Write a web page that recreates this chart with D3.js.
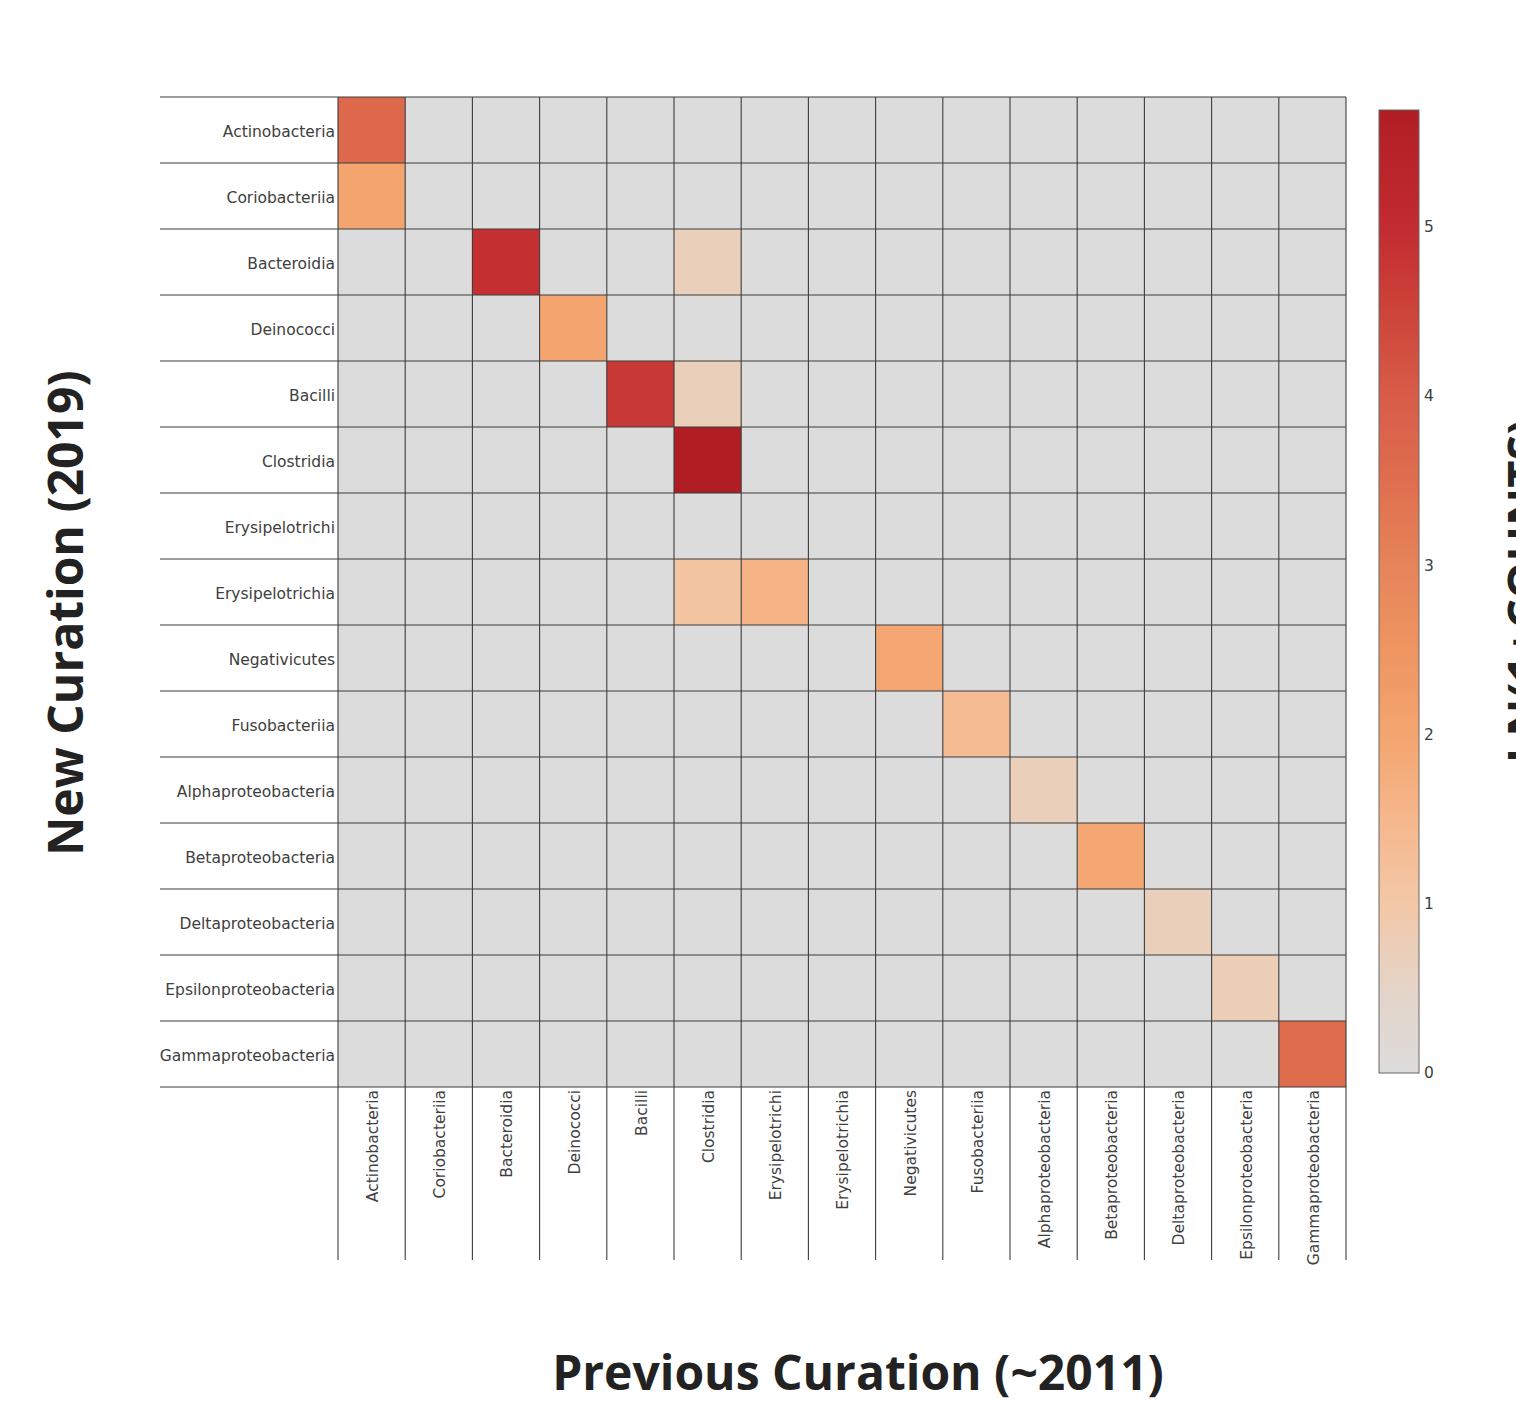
<!DOCTYPE html>
<html>
<head>
<meta charset="utf-8">
<script src="https://cdn.jsdelivr.net/npm/d3@7"></script>
<style>
  html, body { margin: 0; padding: 0; background: #ffffff; }
  svg { display: block; }
</style>
</head>
<body>
<svg id="chart" width="1516" height="1403"></svg>
<script>
// ---------------- DATA ----------------
const rowCategories = [
  "Actinobacteria", "Coriobacteriia", "Bacteroidia", "Deinococci", "Bacilli",
  "Clostridia", "Erysipelotrichi", "Erysipelotrichia", "Negativicutes", "Fusobacteriia",
  "Alphaproteobacteria", "Betaproteobacteria", "Deltaproteobacteria",
  "Epsilonproteobacteria", "Gammaproteobacteria"
];
const colCategories = [
  "Actinobacteria", "Coriobacteriia", "Bacteroidia", "Deinococci", "Bacilli",
  "Clostridia", "Erysipelotrichi", "Erysipelotrichia", "Negativicutes", "Fusobacteriia",
  "Alphaproteobacteria", "Betaproteobacteria", "Deltaproteobacteria",
  "Epsilonproteobacteria", "Gammaproteobacteria"
];
// non-zero cells: ln(1 + counts)
const cellRows = [
  "Actinobacteria", "Coriobacteriia", "Bacteroidia", "Bacteroidia", "Deinococci",
  "Bacilli", "Bacilli", "Clostridia", "Erysipelotrichia", "Erysipelotrichia",
  "Negativicutes", "Fusobacteriia", "Alphaproteobacteria", "Betaproteobacteria",
  "Deltaproteobacteria", "Epsilonproteobacteria", "Gammaproteobacteria"
];
const cellCols = [
  "Actinobacteria", "Actinobacteria", "Bacteroidia", "Clostridia", "Deinococci",
  "Bacilli", "Clostridia", "Clostridia", "Clostridia", "Erysipelotrichi",
  "Negativicutes", "Fusobacteriia", "Alphaproteobacteria", "Betaproteobacteria",
  "Deltaproteobacteria", "Epsilonproteobacteria", "Gammaproteobacteria"
];
const cellValues = [
  3.66, 2.0, 4.93, 0.69, 2.0,
  4.75, 0.69, 5.69, 1.10, 1.61,
  1.95, 1.39, 0.69, 1.95,
  0.69, 0.75, 3.55
];
const zMax = 5.69;
const colorbarTicks = [0, 1, 2, 3, 4, 5];
const colorbarTitle = "LN(1+COUNTS)";
const xTitle = "Previous Curation (~2011)";
const yTitle = "New Curation (2019)";

// colour scale stops (value -> colour)
const colorStopValues = [0, 0.5, 1.0, 1.5, 2.0, 2.5, 3.0, 3.5, 4.0, 4.5, 5.0, 5.69];
const colorStopColors = ["#dcdcdc", "#e5d4c8", "#f3c8a6", "#f5b78c", "#f4a56f", "#ee9560",
                         "#e6845a", "#df6e4e", "#d85c48", "#cd4439", "#c22b30", "#b01e24"];

// ---------------- LAYOUT ----------------
const svg = d3.select("#chart");
const plot = { left: 338, right: 1346, top: 97, bottom: 1087 };
const labelLeft = 160;
const colLineBottom = 1260;

const x = d3.scaleBand().domain(colCategories).range([plot.left, plot.right]);
const y = d3.scaleBand().domain(rowCategories).range([plot.top, plot.bottom]);
const color = d3.scaleLinear().domain(colorStopValues).range(colorStopColors)
  .interpolate(d3.interpolateRgb).clamp(true);

const tickFont = "'DejaVu Sans', Verdana, sans-serif";
const titleFont = "'Open Sans', sans-serif";

// lookup
const zMap = new Map();
cellRows.forEach((r, i) => zMap.set(r + "|" + cellCols[i], cellValues[i]));
const cells = [];
rowCategories.forEach(r => colCategories.forEach(c => {
  cells.push({ r, c, v: zMap.has(r + "|" + c) ? zMap.get(r + "|" + c) : 0 });
}));

// cells
svg.append("g").selectAll("rect").data(cells).join("rect")
  .attr("x", d => x(d.c))
  .attr("y", d => y(d.r))
  .attr("width", x.bandwidth())
  .attr("height", y.bandwidth())
  .attr("fill", d => color(d.v));

// grid lines
const grid = svg.append("g").attr("stroke", "#3c3c3c").attr("stroke-width", 1.1);
const rowEdges = rowCategories.map(r => y(r)).concat([plot.bottom]);
const colEdges = colCategories.map(c => x(c)).concat([plot.right]);
grid.selectAll("line.h").data(rowEdges).join("line").attr("class", "h")
  .attr("x1", labelLeft).attr("x2", plot.right)
  .attr("y1", d => d).attr("y2", d => d);
grid.selectAll("line.v").data(colEdges).join("line").attr("class", "v")
  .attr("x1", d => d).attr("x2", d => d)
  .attr("y1", plot.top).attr("y2", colLineBottom);

// y tick labels
svg.append("g").selectAll("text").data(rowCategories).join("text")
  .attr("x", plot.left - 3)
  .attr("y", d => y(d) + y.bandwidth() / 2)
  .attr("dy", "0.45em")
  .attr("text-anchor", "end")
  .attr("font-family", tickFont)
  .attr("font-size", 15.5)
  .attr("fill", "#404040")
  .text(d => d);

// x tick labels (rotated)
svg.append("g").selectAll("text").data(colCategories).join("text")
  .attr("transform", d => `translate(${x(d) + x.bandwidth() / 2 + 1},${plot.bottom + 3}) rotate(-90)`)
  .attr("dy", "0.35em")
  .attr("text-anchor", "end")
  .attr("font-family", tickFont)
  .attr("font-size", 15.5)
  .attr("fill", "#404040")
  .text(d => d);

// colorbar
const cb = { x: 1379, w: 40, top: 110, bottom: 1073 };
const cbScale = d3.scaleLinear().domain([0, zMax]).range([cb.bottom, cb.top]);
const defs = svg.append("defs");
const grad = defs.append("linearGradient").attr("id", "cbgrad")
  .attr("x1", 0).attr("y1", 1).attr("x2", 0).attr("y2", 0);
colorStopValues.forEach((v, i) => {
  grad.append("stop").attr("offset", v / zMax).attr("stop-color", colorStopColors[i]);
});
svg.append("rect")
  .attr("x", cb.x).attr("y", cb.top)
  .attr("width", cb.w).attr("height", cb.bottom - cb.top)
  .attr("fill", "url(#cbgrad)")
  .attr("stroke", "#666").attr("stroke-width", 1);

const cbAxis = d3.axisRight(cbScale).tickValues(colorbarTicks).tickSize(0).tickPadding(5)
  .tickFormat(d3.format("d"));
const cbg = svg.append("g").attr("transform", `translate(${cb.x + cb.w},0)`).call(cbAxis);
cbg.select(".domain").remove();
cbg.selectAll("text").attr("font-family", tickFont).attr("font-size", 15.5).attr("fill", "#404040");

// colorbar title (partly off canvas, as in the reference)
svg.append("text")
  .attr("transform", `translate(1541,591) rotate(-90)`)
  .attr("text-anchor", "middle")
  .attr("font-family", titleFont)
  .attr("font-weight", 700)
  .attr("font-size", 47)
  .attr("fill", "#222")
  .text(colorbarTitle);

// axis titles
svg.append("text")
  .attr("x", 858).attr("y", 1390)
  .attr("text-anchor", "middle")
  .attr("font-family", titleFont)
  .attr("font-weight", 700)
  .attr("font-size", 48)
  .attr("fill", "#222")
  .text(xTitle);

svg.append("text")
  .attr("transform", `translate(83,613) rotate(-90)`)
  .attr("text-anchor", "middle")
  .attr("font-family", titleFont)
  .attr("font-weight", 700)
  .attr("font-size", 48)
  .attr("fill", "#222")
  .text(yTitle);
</script>
</body>
</html>
